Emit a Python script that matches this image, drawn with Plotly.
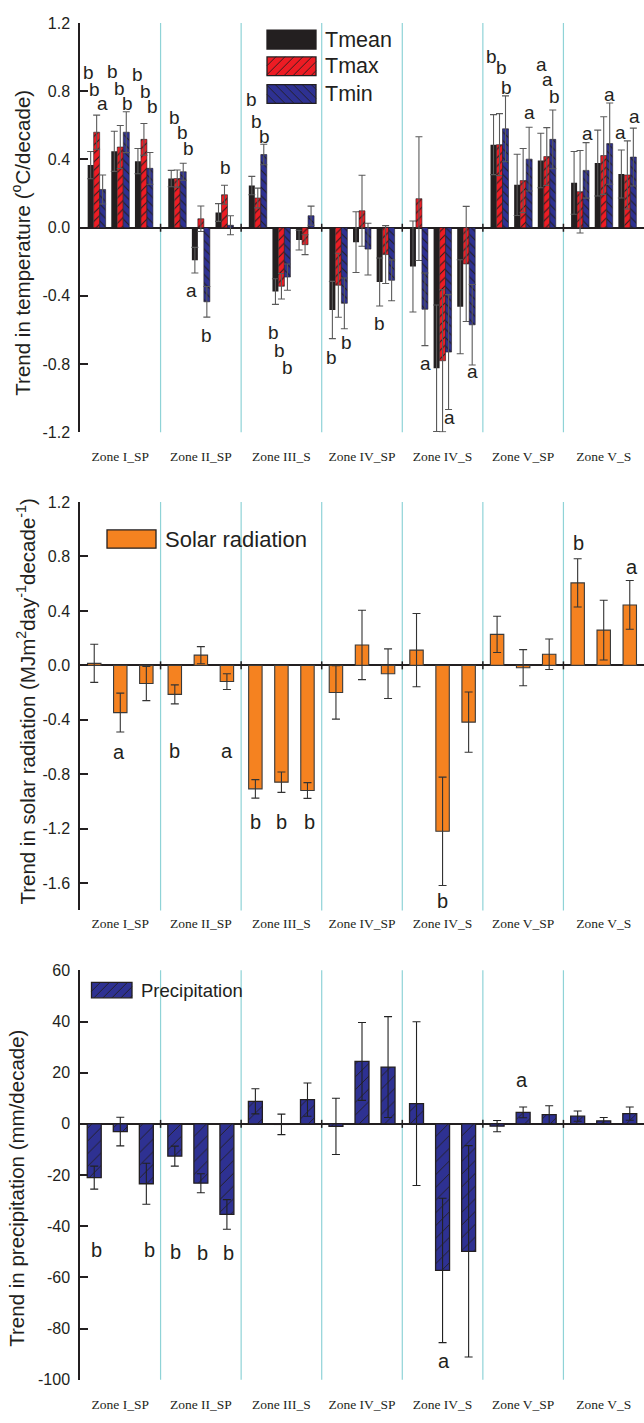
import plotly.graph_objects as go

W, H = 644, 1423

# ---------------- data ----------------
zones = ["Zone I_SP", "Zone II_SP", "Zone III_S", "Zone IV_SP", "Zone IV_S", "Zone V_SP", "Zone V_S"]

# 7 zones x 3 sub-groups = 21 groups
tmean = [0.367, 0.448, 0.390, 0.288, -0.191, 0.089, 0.247, -0.375, -0.073,
         -0.483, -0.085, -0.319, -0.228, -0.825, -0.464, 0.487, 0.251, 0.394,
         0.263, 0.379, 0.315]
tmean_err = [0.080, 0.118, 0.074, 0.048, 0.075, 0.052, 0.054, 0.075, 0.058,
             0.168, 0.178, 0.141, 0.267, 0.371, 0.276, 0.176, 0.180, 0.160,
             0.184, 0.193, 0.141]
tmax = [0.560, 0.473, 0.518, 0.288, 0.052, 0.193, 0.174, -0.344, -0.100,
        -0.338, 0.099, -0.158, 0.170, -0.781, -0.213, 0.487, 0.276, 0.417,
        0.211, 0.423, 0.309]
tmax_err = [0.100, 0.126, 0.093, 0.050, 0.075, 0.056, 0.058, 0.075, 0.058,
            0.188, 0.208, 0.170, 0.363, 0.417, 0.338, 0.182, 0.188, 0.170,
            0.242, 0.228, 0.200]
tmin = [0.224, 0.560, 0.348, 0.328, -0.435, 0.014, 0.429, -0.290, 0.070,
        -0.444, -0.126, -0.309, -0.479, -0.730, -0.570, 0.580, 0.402, 0.518,
        0.336, 0.493, 0.414]
tmin_err = [0.085, 0.120, 0.093, 0.050, 0.090, 0.056, 0.060, 0.077, 0.056,
            0.149, 0.152, 0.120, 0.213, 0.337, 0.236, 0.193, 0.187, 0.172,
            0.163, 0.238, 0.170]

solar = [0.015, -0.347, -0.133, -0.213, 0.075, -0.119, -0.907, -0.858, -0.919,
         -0.199, 0.150, -0.061, 0.112, -1.219, -0.417, 0.228, -0.017, 0.082,
         0.606, 0.259, 0.444]
solar_err = [0.140, 0.143, 0.126, 0.070, 0.063, 0.058, 0.068, 0.075, 0.058,
             0.196, 0.255, 0.182, 0.269, 0.398, 0.221, 0.133, 0.133, 0.112,
             0.177, 0.219, 0.179]

precip = [-21.0, -3.0, -23.4, -12.6, -23.2, -35.4, 8.8, -0.2, 9.5,
          -1.0, 24.4, 22.2, 7.9, -57.3, -49.8, -0.9, 4.5, 3.6,
          3.0, 1.2, 4.0]
precip_err = [4.5, 5.6, 8.0, 3.9, 3.7, 5.8, 4.9, 4.0, 6.5,
              11.0, 15.2, 19.7, 32.0, 28.2, 41.3, 2.2, 2.1, 3.5,
              2.0, 1.3, 2.6]

# tick labels
temp_ticks = [-1.2, -0.8, -0.4, 0.0, 0.4, 0.8, 1.2]
temp_ticktext = ["-1.2", "-0.8", "-0.4", "0.0", "0.4", "0.8", "1.2"]
solar_ticks = [-1.6, -1.2, -0.8, -0.4, 0.0, 0.4, 0.8, 1.2]
solar_ticktext = ["-1.6", "-1.2", "-0.8", "-0.4", "0.0", "0.4", "0.8", "1.2"]
precip_ticks = [-100, -80, -60, -40, -20, 0, 20, 40, 60]
precip_ticktext = ["-100", "-80", "-60", "-40", "-20", "0", "20", "40", "60"]

# significance letters: (zone, group, series, letter)
temp_letters = [
    (0, 0, 0, "b"), (0, 0, 1, "b"), (0, 0, 2, "a"),
    (0, 1, 0, "b"), (0, 1, 1, "b"), (0, 1, 2, "b"),
    (0, 2, 0, "b"), (0, 2, 1, "b"), (0, 2, 2, "b"),
    (1, 0, 0, "b"), (1, 0, 1, "b"), (1, 0, 2, "b"),
    (1, 1, 0, "a"), (1, 1, 2, "b"), (1, 2, 1, "b"),
    (2, 0, 0, "b"), (2, 0, 1, "b"), (2, 0, 2, "b"),
    (2, 1, 0, "b"), (2, 1, 1, "b"), (2, 1, 2, "b"),
    (3, 0, 0, "b"), (3, 0, 2, "b"), (3, 2, 0, "b"),
    (4, 0, 2, "a"), (4, 1, 0, "a"), (4, 1, 2, "a"), (4, 2, 2, "a"),
    (5, 0, 0, "b"), (5, 0, 1, "b"), (5, 0, 2, "b"), (5, 1, 2, "a"),
    (5, 2, 0, "a"), (5, 2, 1, "a"), (5, 2, 2, "b"),
    (6, 0, 2, "a"), (6, 1, 2, "a"), (6, 2, 0, "a"), (6, 2, 2, "a"),
]
# letter placement (y in data units, dx in px)
temp_letter_pos = [
    (0.910, -2), (0.808, -2), (0.730, 0),
    (0.918, -2), (0.818, -1), (0.730, 1),
    (0.899, 0), (0.799, 2), (0.711, 3),
    (0.649, 3), (0.557, 5), (0.464, 5),
    (-0.367, -3), (-0.632, 0), (0.354, 1),
    (0.754, 0), (0.624, -1), (0.537, 1),
    (-0.613, -2), (-0.723, -2), (-0.821, 0),
    (-0.761, -1), (-0.671, 2), (-0.560, 0),
    (-0.796, 1), (-1.241, -1), (-1.115, 1), (-0.844, 0),
    (1.007, -2), (0.937, 2), (0.821, 1), (0.676, 0),
    (0.958, 1), (0.872, 1), (0.769, 2),
    (0.553, 1), (0.779, 0), (0.560, -1), (0.653, 1),
]
solar_letters = [(0, 1, "a"), (1, 0, "b"), (1, 2, "a"), (2, 0, "b"), (2, 1, "b"),
                 (2, 2, "b"), (4, 1, "b"), (6, 0, "b"), (6, 2, "a")]
solar_letter_pos = [(-0.638, -1), (-0.630, 0), (-0.630, 0), (-1.152, 0), (-1.152, 0),
                    (-1.152, 2), (-1.733, 0), (0.897, 1), (0.720, 2)]
precip_letters = [(0, 0, "b"), (0, 2, "b"), (1, 0, "b"), (1, 1, "b"), (1, 2, "b"),
                  (4, 1, "a"), (5, 1, "a")]
precip_letter_pos = [(-49.4, 2), (-49.4, 3), (-50.1, 1), (-50.5, 2), (-50.5, 2),
                     (-92.6, 1), (17.0, -1)]

# ---------------- style / layout ----------------
BLACK = "#231F20"
RED = "#ED1C24"
BLUE = "#2E3192"
ORANGE = "#F58220"
CYAN = "#8FD3D7"
SANS = "Liberation Sans, Arial, sans-serif"
SERIF = "Liberation Serif, Times New Roman, serif"

def px(x):
    return x / W

def py(y):
    return 1 - y / H

X_DOMAIN = [px(80), 1.0]
Y_DOMAINS = [[py(429.3), py(15.3)], [py(913.3), py(500)], [py(1388.3), py(974)]]


def group_centers(spacing):
    return [z * 3 + 1.5 + (g - 1) * spacing for z in range(7) for g in range(3)]


T_SPACING, T_BARW = 0.88, 0.223
S_SPACING, S_BARW = 0.97, 0.50
P_SPACING, P_BARW = 0.97, 0.52

fig = go.Figure()

# ---- panel 1: temperature ----
tc = group_centers(T_SPACING)
series = [
    ("Tmean", tmean, tmean_err, BLACK, None, "#5A5A5A"),
    ("Tmax", tmax, tmax_err, RED, "/", "#5A5A5A"),
    ("Tmin", tmin, tmin_err, BLUE, "\\", "#5A5A5A"),
]
for k, (name, vals, errs, col, hatch, ecol) in enumerate(series):
    xs = [c + (k - 1) * T_BARW for c in tc]
    marker = dict(color=col, line=dict(width=0.6 if hatch else 0, color=BLACK))
    if hatch:
        marker["pattern"] = dict(shape=hatch, fgcolor=BLACK, bgcolor=col,
                                 size=6, solidity=0.18, fillmode="replace")
    fig.add_trace(go.Bar(
        x=xs, y=vals, width=T_BARW, name=name, marker=marker,
        error_y=dict(type="data", array=errs, visible=True, color=ecol,
                     thickness=1.1, width=3.5),
        xaxis="x", yaxis="y", showlegend=False,
    ))

# ---- panel 2: solar ----
sc = group_centers(S_SPACING)
fig.add_trace(go.Bar(
    x=sc, y=solar, width=S_BARW, name="Solar radiation",
    marker=dict(color=ORANGE, line=dict(width=1.1, color="#3A3A3A")),
    error_y=dict(type="data", array=solar_err, visible=True, color="#333333",
                 thickness=1.1, width=4),
    xaxis="x2", yaxis="y2", showlegend=False,
))

# ---- panel 3: precipitation ----
pc = group_centers(P_SPACING)
fig.add_trace(go.Bar(
    x=pc, y=precip, width=P_BARW, name="Precipitation",
    marker=dict(color=BLUE, line=dict(width=1.3, color=BLACK),
                pattern=dict(shape="/", fgcolor=BLACK, bgcolor=BLUE,
                             size=9, solidity=0.1, fillmode="replace")),
    error_y=dict(type="data", array=precip_err, visible=True, color="#222222",
                 thickness=1.1, width=4),
    xaxis="x3", yaxis="y3", showlegend=False,
))

annotations = []
shapes = []

# letters
for (z, g, s, txt), (yv, dx) in zip(temp_letters, temp_letter_pos):
    annotations.append(dict(x=tc[z * 3 + g] + (s - 1) * T_BARW, y=yv, xref="x", yref="y",
                            text=txt, showarrow=False, xshift=dx,
                            font=dict(family=SANS, size=19, color=BLACK)))
for (z, g, txt), (yv, dx) in zip(solar_letters, solar_letter_pos):
    annotations.append(dict(x=sc[z * 3 + g], y=yv, xref="x2", yref="y2",
                            text=txt, showarrow=False, xshift=dx,
                            font=dict(family=SANS, size=20, color=BLACK)))
for (z, g, txt), (yv, dx) in zip(precip_letters, precip_letter_pos):
    annotations.append(dict(x=pc[z * 3 + g], y=yv, xref="x3", yref="y3",
                            text=txt, showarrow=False, xshift=dx,
                            font=dict(family=SANS, size=20, color=BLACK)))

# y titles
ytitles = [
    ("Trend in temperature (<sup>o</sup>C/decade)", 21, 237.5),
    ("Trend in solar radiation (MJm<sup>2</sup>day<sup>-1</sup>decade<sup>-1</sup>)", 26, 702),
    ("Trend in precipitation (mm/decade)", 17, 1195),
]
for txt, xx, yy in ytitles:
    annotations.append(dict(x=px(xx), y=py(yy), xref="paper", yref="paper", text=txt,
                            textangle=-90, showarrow=False, xanchor="center", yanchor="middle",
                            font=dict(family=SANS, size=20.5, color=BLACK)))

# zone separators and zero-line ticks
for ax in ["", "2", "3"]:
    for b in range(1, 7):
        shapes.append(dict(type="line", xref="x" + ax, yref="y" + ax + " domain",
                           x0=b * 3, x1=b * 3, y0=0, y1=1, layer="below",
                           line=dict(color=CYAN, width=1.2)))
        shapes.append(dict(type="line", xref="x" + ax, yref="y" + ax,
                           ysizemode="pixel", yanchor=0, y0=-4, y1=4,
                           x0=b * 3, x1=b * 3, line=dict(color=BLACK, width=1.5)))


# custom legend swatches
def hatch_path(w, h, step, direction):
    segs = []
    if direction == "/":
        c = -h
        while c < w:
            xa, xb = max(0, c), min(w, c + h)
            if xb > xa:
                segs.append(f"M{xa:.2f},{xa - c:.2f}L{xb:.2f},{xb - c:.2f}")
            c += step
    else:
        c = 0
        while c < w + h:
            xa, xb = max(0, c - h), min(w, c)
            if xb > xa:
                segs.append(f"M{xa:.2f},{c - xa:.2f}L{xb:.2f},{c - xb:.2f}")
            c += step
    return "".join(segs)


def swatch(x0, yc, w, h, color, hatch=None):
    shapes.append(dict(type="rect", xref="paper", yref="paper",
                       x0=px(x0), x1=px(x0 + w), y0=py(yc + h / 2), y1=py(yc - h / 2),
                       fillcolor=color, line=dict(color=BLACK, width=1.3)))
    if hatch:
        shapes.append(dict(type="path", xref="paper", yref="paper",
                           xsizemode="pixel", ysizemode="pixel",
                           xanchor=px(x0), yanchor=py(yc + h / 2),
                           path=hatch_path(w, h, 9, hatch),
                           line=dict(color=BLACK, width=0.9)))


legend_items = [
    ("Tmean", BLACK, None, 267, 32, 49, 19, 21.5),
    ("Tmax", RED, "/", 267, 59, 49, 19, 21.5),
    ("Tmin", BLUE, "\\", 267, 87, 49, 19, 21.5),
    ("Solar radiation", ORANGE, None, 107, 537.5, 49, 18.5, 22),
    ("Precipitation", BLUE, "/", 91.5, 994, 40.5, 15.5, 18.5),
]
for txt, col, hatch, x0, yc, w, h, fs in legend_items:
    swatch(x0, yc, w, h, col, hatch)
    annotations.append(dict(x=px(x0 + w + 7), y=py(yc), xref="paper", yref="paper",
                            text=txt, showarrow=False, xanchor="left", yanchor="middle",
                            font=dict(family=SANS, size=fs, color=BLACK)))


def xaxis(standoff):
    return dict(domain=X_DOMAIN, range=[0, 21], showline=False, showgrid=False,
                zeroline=False, ticks="", tickvals=[z * 3 + 1.5 for z in range(7)],
                ticktext=zones, tickfont=dict(family=SERIF, size=13.5, color=BLACK),
                ticklabelstandoff=standoff, fixedrange=True)


def yaxis(dom, rng, tv, tt, anchor):
    return dict(domain=dom, range=rng, tickvals=tv, ticktext=tt, showline=True,
                linecolor=BLACK, linewidth=1.5, ticks="inside", ticklen=8,
                tickwidth=1.5, tickcolor=BLACK, showgrid=False, zeroline=True,
                zerolinecolor=BLACK, zerolinewidth=1.5, anchor=anchor,
                tickfont=dict(family=SANS, size=16, color=BLACK),
                ticklabelstandoff=5, fixedrange=True)


fig.update_layout(
    width=W, height=H, margin=dict(l=0, r=0, t=0, b=0),
    paper_bgcolor="white", plot_bgcolor="white",
    barmode="overlay", showlegend=False,
    xaxis=dict(anchor="y", **xaxis(14)),
    xaxis2=dict(anchor="y2", **xaxis(3)),
    xaxis3=dict(anchor="y3", **xaxis(15)),
    yaxis=yaxis(Y_DOMAINS[0], [-1.2, 1.2], temp_ticks, temp_ticktext, "x"),
    yaxis2=yaxis(Y_DOMAINS[1], [-1.8, 1.2], solar_ticks, solar_ticktext, "x2"),
    yaxis3=yaxis(Y_DOMAINS[2], [-100, 60], precip_ticks, precip_ticktext, "x3"),
    annotations=annotations, shapes=shapes,
)

fig.write_html(
    "out.html",
    config={"displayModeBar": False},
    post_script="document.body.style.margin='0';document.body.style.overflow='hidden';",
)
